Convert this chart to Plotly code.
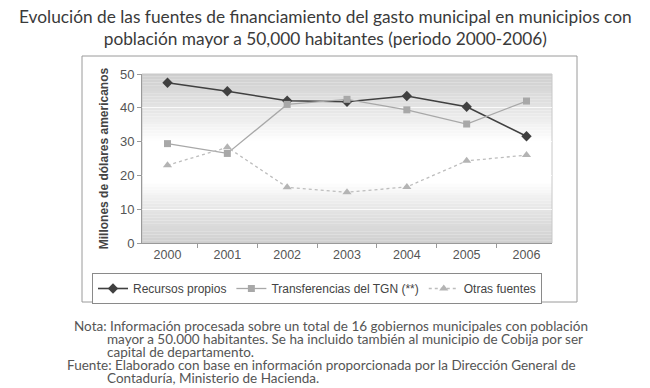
import plotly.graph_objects as go

years = ["2000", "2001", "2002", "2003", "2004", "2005", "2006"]
recursos_propios = [47.4, 44.9, 42.1, 41.8, 43.5, 40.3, 31.6]
transferencias_tgn = [29.4, 26.5, 41.0, 42.5, 39.4, 35.2, 42.0]
otras_fuentes = [23.0, 28.3, 16.5, 15.0, 16.6, 24.3, 26.0]

W, H = 650, 388
L, R, T, B = 142, 552, 74, 243  # plot area in pixels


def px(x):
    return (x - L) / (R - L)


def py(y):
    return (B - y) / (B - T)


fig = go.Figure()
fig.add_trace(go.Scatter(
    x=years, y=recursos_propios, name="Recursos propios", mode="lines+markers",
    line=dict(color="#404040", width=1.6),
    marker=dict(symbol="diamond", size=8, color="#404040")))
fig.add_trace(go.Scatter(
    x=years, y=transferencias_tgn, name="Transferencias del TGN (**)", mode="lines+markers",
    line=dict(color="#a8a8a8", width=1.3),
    marker=dict(symbol="square", size=7, color="#a8a8a8")))
fig.add_trace(go.Scatter(
    x=years, y=otras_fuentes, name="Otras fuentes", mode="lines+markers",
    line=dict(color="#bdbdbd", width=1.3, dash="dot"),
    marker=dict(symbol="triangle-up", size=8, color="#b4b4b4")))

# gradient background of the plot area (stepwise strips)
stops = [(0.0, 206), (0.2, 228), (0.4, 255), (0.64, 255), (0.82, 226), (1.0, 208)]


def shade(f):
    for (f0, c0), (f1, c1) in zip(stops[:-1], stops[1:]):
        if f0 <= f <= f1:
            return c0 + (c1 - c0) * (f - f0) / (f1 - f0)
    return 255


shapes = []
N = 60
for i in range(N):
    f0, f1 = i / N, (i + 1) / N
    c = int(round(shade((f0 + f1) / 2)))
    shapes.append(dict(type="rect", xref="paper", yref="paper", x0=0, x1=1,
                       y0=1 - f1, y1=1 - f0, fillcolor=f"rgb({c},{c},{c})",
                       line=dict(width=0), layer="below"))
# plot-area border
shapes.append(dict(type="rect", xref="paper", yref="paper", x0=0, x1=1, y0=0, y1=1,
                   line=dict(color="#c8c8c8", width=1), layer="below"))
# outer chart box
shapes.append(dict(type="rect", xref="paper", yref="paper",
                   x0=px(82), x1=px(577), y0=py(302), y1=py(56),
                   line=dict(color="#9a9a9a", width=1)))

fig.update_layout(
    width=W, height=H,
    margin=dict(l=L, r=W - R, t=T, b=H - B, autoexpand=False),
    paper_bgcolor="white", plot_bgcolor="rgba(0,0,0,0)",
    showlegend=True,
    legend=dict(orientation="h", x=px(92), xanchor="left", y=py(273), yanchor="top",
                bordercolor="#8a8a8a", borderwidth=1, bgcolor="white",
                font=dict(family="Liberation Sans, Arial", size=12, color="#444"),
                tracegroupgap=0),
    shapes=shapes,
    xaxis=dict(showgrid=False, showline=True, linecolor="#9a9a9a", ticks="outside",
               tickson="boundaries", ticklen=4, tickcolor="#9a9a9a",
               tickfont=dict(family="Liberation Sans, Arial", size=12.5, color="#555"),
               zeroline=False),
    yaxis=dict(range=[0, 50], dtick=10, showgrid=True, gridcolor="rgba(255,255,255,0.75)",
               gridwidth=1, showline=True, linecolor="#9a9a9a", ticks="outside", ticklen=4,
               tickcolor="#9a9a9a", zeroline=False,
               tickfont=dict(family="Liberation Sans, Arial", size=13, color="#555"),
               title=dict(text="<b>Millones de dólares americanos</b>", standoff=8,
                          font=dict(family="Liberation Sans, Arial", size=12, color="#444"))),
)

fig.add_annotation(
    text="Evolución de las fuentes de financiamiento del gasto municipal en municipios con<br>población mayor a 50,000 habitantes (periodo 2000-2006)",
    xref="paper", yref="paper", x=px(325), y=py(4), xanchor="center", yanchor="top",
    showarrow=False, align="center",
    font=dict(family="Lato, Noto Sans, sans-serif", size=17.3, color="#3a3a3a"))

notes = [
    (73, 326, "Nota: Información procesada sobre un total de 16 gobiernos municipales con población"),
    (106, 339, "mayor a 50.000 habitantes. Se ha incluido también al municipio de Cobija por ser"),
    (106, 352, "capital de departamento."),
    (66, 365, "Fuente: Elaborado con base en información proporcionada por la Dirección General de"),
    (106, 378, "Contaduría, Ministerio de Hacienda."),
]
for x, y, t in notes:
    fig.add_annotation(text=t, xref="paper", yref="paper", x=px(x), y=py(y),
                       xanchor="left", yanchor="middle", showarrow=False, borderpad=0,
                       font=dict(family="Lato, Noto Sans, sans-serif", size=13.5, color="#555"))

fig.write_html("out.html", config={"displayModeBar": False},
               post_script="document.body.style.margin='0';document.body.style.overflow='hidden';")
